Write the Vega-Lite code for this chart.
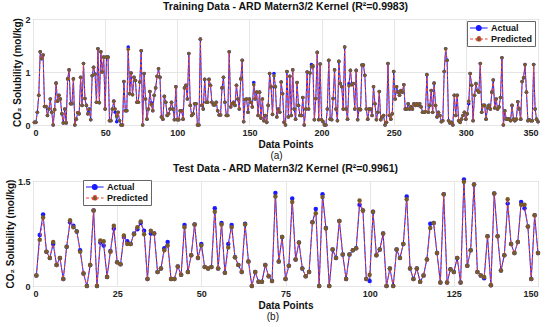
{
  "$schema": "https://vega.github.io/schema/vega-lite/v6.json",
  "background": "white",
  "padding": {"left": 4, "top": 1, "right": 5, "bottom": 0},
  "spacing": 2,
  "config": {
    "font": "Liberation Sans",
    "view": {"stroke": "#999999", "strokeWidth": 1},
    "axis": {
      "labelFont": "Liberation Sans", "labelFontWeight": "bold", "labelFontSize": 9, "labelColor": "#222222",
      "titleFont": "Liberation Sans", "titleFontWeight": "bold", "titleFontSize": 10, "titleColor": "#111111",
      "gridColor": "#e6e6e6", "domain": false, "ticks": false, "labelPadding": 3, "titlePadding": 2
    },
    "legend": {
      "labelFont": "Liberation Sans", "labelFontWeight": "bold", "labelFontSize": 9, "labelColor": "#111111",
      "strokeColor": "#666666", "fillColor": "white", "padding": 2, "rowPadding": 1, "title": null,
      "symbolSize": 64, "labelOffset": 12, "symbolStrokeWidth": 1.2,
      "symbolType": "M-1,0H3.4M1.8,0A0.6,0.6,0,1,1,0.6,0A0.6,0.6,0,1,1,1.8,0Z"
    },
    "title": {"font": "Liberation Sans", "fontWeight": "bold", "fontSize": 10.5, "color": "#111111"}
  },
  "datasets": {
    "train": [
{"i":1,"actual":0.05,"predicted":0.05},{"i":2,"actual":0.05,"predicted":0.05},{"i":3,"actual":0.24,"predicted":0.24},{"i":4,"actual":0.56,"predicted":0.56},{"i":5,"actual":1.38,"predicted":1.38},{"i":6,"actual":1.25,"predicted":1.25},{"i":7,"actual":1.32,"predicted":1.32},{"i":8,"actual":0.35,"predicted":0.35},{"i":9,"actual":0.35,"predicted":0.35},{"i":10,"actual":0.18,"predicted":0.18},
{"i":11,"actual":0.3,"predicted":0.3},{"i":12,"actual":0.49,"predicted":0.49},{"i":13,"actual":0.24,"predicted":0.24},{"i":14,"actual":0,"predicted":0},{"i":15,"actual":0.29,"predicted":0.29},{"i":16,"actual":0.79,"predicted":0.79},{"i":17,"actual":0.45,"predicted":0.45},{"i":18,"actual":0.56,"predicted":0.56},{"i":19,"actual":0.49,"predicted":0.49},{"i":20,"actual":0.21,"predicted":0.21},
{"i":21,"actual":0.04,"predicted":0.04},{"i":22,"actual":0.3,"predicted":0.3},{"i":23,"actual":0.04,"predicted":0.04},{"i":24,"actual":0.87,"predicted":0.87},{"i":25,"actual":1.04,"predicted":1.04},{"i":26,"actual":0.4,"predicted":0.4},{"i":27,"actual":0.4,"predicted":0.4},{"i":28,"actual":0.87,"predicted":0.87},{"i":29,"actual":0,"predicted":0},{"i":30,"actual":0.11,"predicted":0.11},
{"i":31,"actual":0.23,"predicted":0.23},{"i":32,"actual":0.21,"predicted":0.21},{"i":33,"actual":0.9,"predicted":0.9},{"i":34,"actual":0.37,"predicted":0.37},{"i":35,"actual":1.16,"predicted":1.16},{"i":36,"actual":0.5,"predicted":0.5},{"i":37,"actual":0.37,"predicted":0.37},{"i":38,"actual":0.21,"predicted":0.21},{"i":39,"actual":0.3,"predicted":0.3},{"i":40,"actual":0.1,"predicted":0.1},
{"i":41,"actual":0.93,"predicted":0.93},{"i":42,"actual":1.09,"predicted":1.09},{"i":43,"actual":0.96,"predicted":0.96},{"i":44,"actual":0.43,"predicted":0.43},{"i":45,"actual":1.44,"predicted":1.44},{"i":46,"actual":0.42,"predicted":0.42},{"i":47,"actual":1.38,"predicted":1.38},{"i":48,"actual":1.0,"predicted":1.0},{"i":49,"actual":1.28,"predicted":1.28},{"i":50,"actual":0.3,"predicted":0.3},
{"i":51,"actual":1.28,"predicted":1.28},{"i":52,"actual":1.28,"predicted":1.28},{"i":53,"actual":0.08,"predicted":0.08},{"i":54,"actual":0.08,"predicted":0.08},{"i":55,"actual":0.3,"predicted":0.3},{"i":56,"actual":0.45,"predicted":0.45},{"i":57,"actual":0.24,"predicted":0.3},{"i":58,"actual":0.06,"predicted":0.16},{"i":59,"actual":0.24,"predicted":0.24},{"i":60,"actual":0.08,"predicted":0.08},
{"i":61,"actual":0,"predicted":0},{"i":62,"actual":0,"predicted":0},{"i":63,"actual":0.82,"predicted":0.82},{"i":64,"actual":0.27,"predicted":0.27},{"i":65,"actual":0.27,"predicted":0.27},{"i":66,"actual":1.47,"predicted":1.43},{"i":67,"actual":0.59,"predicted":0.59},{"i":68,"actual":0.98,"predicted":0.98},{"i":69,"actual":0.57,"predicted":0.57},{"i":70,"actual":0.9,"predicted":0.9},
{"i":71,"actual":0.84,"predicted":0.84},{"i":72,"actual":0.43,"predicted":0.43},{"i":73,"actual":0.43,"predicted":0.43},{"i":74,"actual":0.81,"predicted":0.81},{"i":75,"actual":1.4,"predicted":1.4},{"i":76,"actual":0,"predicted":0},{"i":77,"actual":0.97,"predicted":0.97},{"i":78,"actual":0.49,"predicted":0.49},{"i":79,"actual":0.11,"predicted":0.11},{"i":80,"actual":0.3,"predicted":0.3},
{"i":81,"actual":0.63,"predicted":0.63},{"i":82,"actual":0.42,"predicted":0.38},{"i":83,"actual":0.27,"predicted":0.27},{"i":84,"actual":0.56,"predicted":0.56},{"i":85,"actual":0.7,"predicted":0.7},{"i":86,"actual":0.92,"predicted":0.92},{"i":87,"actual":1.06,"predicted":1.06},{"i":88,"actual":0.9,"predicted":0.9},{"i":89,"actual":0.15,"predicted":0.15},{"i":90,"actual":0.11,"predicted":0.11},
{"i":91,"actual":0.54,"predicted":0.54},{"i":92,"actual":0.43,"predicted":0.43},{"i":93,"actual":0.18,"predicted":0.18},{"i":94,"actual":0.21,"predicted":0.21},{"i":95,"actual":0.3,"predicted":0.3},{"i":96,"actual":0.43,"predicted":0.43},{"i":97,"actual":0.3,"predicted":0.3},{"i":98,"actual":0.1,"predicted":0.1},{"i":99,"actual":0.72,"predicted":0.72},{"i":100,"actual":0.1,"predicted":0.1},
{"i":101,"actual":0.1,"predicted":0.1},{"i":102,"actual":0.27,"predicted":0.27},{"i":103,"actual":0.27,"predicted":0.27},{"i":104,"actual":0.11,"predicted":0.11},{"i":105,"actual":0.7,"predicted":0.7},{"i":106,"actual":0.75,"predicted":0.75},{"i":107,"actual":0.49,"predicted":0.49},{"i":108,"actual":1.35,"predicted":1.35},{"i":109,"actual":0.37,"predicted":0.37},{"i":110,"actual":0.18,"predicted":0.18},
{"i":111,"actual":0.21,"predicted":0.21},{"i":112,"actual":0.4,"predicted":0.4},{"i":113,"actual":0.4,"predicted":0.4},{"i":114,"actual":0,"predicted":0},{"i":115,"actual":0,"predicted":0},{"i":116,"actual":1.62,"predicted":1.62},{"i":117,"actual":0.37,"predicted":0.37},{"i":118,"actual":0.3,"predicted":0.3},{"i":119,"actual":0.86,"predicted":0.86},{"i":120,"actual":0.43,"predicted":0.43},
{"i":121,"actual":0.43,"predicted":0.43},{"i":122,"actual":0.86,"predicted":0.86},{"i":123,"actual":0.75,"predicted":0.75},{"i":124,"actual":0.43,"predicted":0.43},{"i":125,"actual":0.38,"predicted":0.38},{"i":126,"actual":0.38,"predicted":0.38},{"i":127,"actual":0.43,"predicted":0.43},{"i":128,"actual":0.27,"predicted":0.27},{"i":129,"actual":0.19,"predicted":0.19},{"i":130,"actual":0.19,"predicted":0.19},
{"i":131,"actual":0.7,"predicted":0.7},{"i":132,"actual":0.9,"predicted":0.9},{"i":133,"actual":0.43,"predicted":0.43},{"i":134,"actual":0.18,"predicted":0.18},{"i":135,"actual":0.18,"predicted":0.18},{"i":136,"actual":1.38,"predicted":1.38},{"i":137,"actual":0.34,"predicted":0.34},{"i":138,"actual":0.4,"predicted":0.4},{"i":139,"actual":0.43,"predicted":0.43},{"i":140,"actual":0.37,"predicted":0.37},
{"i":141,"actual":0.75,"predicted":0.75},{"i":142,"actual":0.49,"predicted":0.49},{"i":143,"actual":0.3,"predicted":0.3},{"i":144,"actual":0.87,"predicted":0.87},{"i":145,"actual":1.22,"predicted":1.22},{"i":146,"actual":0.06,"predicted":0.06},{"i":147,"actual":0.48,"predicted":0.48},{"i":148,"actual":0.49,"predicted":0.49},{"i":149,"actual":0.24,"predicted":0.24},{"i":150,"actual":0.49,"predicted":0.49},
{"i":151,"actual":0.43,"predicted":0.43},{"i":152,"actual":0.34,"predicted":0.34},{"i":153,"actual":0.8,"predicted":0.76},{"i":154,"actual":0.49,"predicted":0.49},{"i":155,"actual":0.62,"predicted":0.62},{"i":156,"actual":0.18,"predicted":0.18},{"i":157,"actual":0.62,"predicted":0.62},{"i":158,"actual":0.13,"predicted":0.13},{"i":159,"actual":0.49,"predicted":0.49},{"i":160,"actual":0.08,"predicted":0.08},
{"i":161,"actual":0.18,"predicted":0.18},{"i":162,"actual":0.05,"predicted":0.05},{"i":163,"actual":0.37,"predicted":0.37},{"i":164,"actual":0.97,"predicted":0.97},{"i":165,"actual":0.72,"predicted":0.72},{"i":166,"actual":0.2,"predicted":0.2},{"i":167,"actual":0.97,"predicted":0.93},{"i":168,"actual":0.72,"predicted":0.72},{"i":169,"actual":0.15,"predicted":0.15},{"i":170,"actual":0.3,"predicted":0.3},
{"i":171,"actual":0.24,"predicted":0.24},{"i":172,"actual":0.81,"predicted":0.81},{"i":173,"actual":0.59,"predicted":0.59},{"i":174,"actual":0.05,"predicted":0.05},{"i":175,"actual":0,"predicted":0},{"i":176,"actual":1.01,"predicted":1.01},{"i":177,"actual":0.15,"predicted":0.15},{"i":178,"actual":0.92,"predicted":0.92},{"i":179,"actual":0.18,"predicted":0.18},{"i":180,"actual":1.04,"predicted":1.04},
{"i":181,"actual":0.3,"predicted":0.3},{"i":182,"actual":0.11,"predicted":0.11},{"i":183,"actual":0.8,"predicted":0.8},{"i":184,"actual":0.37,"predicted":0.37},{"i":185,"actual":0.18,"predicted":0.18},{"i":186,"actual":0.18,"predicted":0.18},{"i":187,"actual":0.52,"predicted":0.52},{"i":188,"actual":0,"predicted":0},{"i":189,"actual":0.3,"predicted":0.3},{"i":190,"actual":1.0,"predicted":1.0},
{"i":191,"actual":0.3,"predicted":0.3},{"i":192,"actual":0.98,"predicted":0.98},{"i":193,"actual":1.14,"predicted":1.1},{"i":194,"actual":1.1,"predicted":1.12},{"i":195,"actual":0.1,"predicted":0.1},{"i":196,"actual":0.5,"predicted":0.5},{"i":197,"actual":1.37,"predicted":1.37},{"i":198,"actual":0.1,"predicted":0.1},{"i":199,"actual":1.15,"predicted":1.15},{"i":200,"actual":0.1,"predicted":0.1},
{"i":201,"actual":0.06,"predicted":0.06},{"i":202,"actual":0,"predicted":0},{"i":203,"actual":0,"predicted":0},{"i":204,"actual":0.3,"predicted":0.3},{"i":205,"actual":1.22,"predicted":1.22},{"i":206,"actual":0.11,"predicted":0.11},{"i":207,"actual":0.1,"predicted":0.1},{"i":208,"actual":0.5,"predicted":0.5},{"i":209,"actual":1.04,"predicted":1.04},{"i":210,"actual":0.3,"predicted":0.3},
{"i":211,"actual":0.08,"predicted":0.08},{"i":212,"actual":1.2,"predicted":1.2},{"i":213,"actual":0.78,"predicted":0.78},{"i":214,"actual":0.72,"predicted":0.72},{"i":215,"actual":0.3,"predicted":0.3},{"i":216,"actual":1.47,"predicted":1.47},{"i":217,"actual":0.3,"predicted":0.3},{"i":218,"actual":0.11,"predicted":0.11},{"i":219,"actual":0.78,"predicted":0.74},{"i":220,"actual":1.03,"predicted":1.03},
{"i":221,"actual":0.76,"predicted":0.76},{"i":222,"actual":0.78,"predicted":0.78},{"i":223,"actual":0.3,"predicted":0.3},{"i":224,"actual":1.03,"predicted":1.03},{"i":225,"actual":0.1,"predicted":0.1},{"i":226,"actual":0.3,"predicted":0.3},{"i":227,"actual":0.29,"predicted":0.29},{"i":228,"actual":1.13,"predicted":1.13},{"i":229,"actual":1.13,"predicted":1.13},{"i":230,"actual":0.94,"predicted":0.94},
{"i":231,"actual":0.3,"predicted":0.3},{"i":232,"actual":0.11,"predicted":0.11},{"i":233,"actual":0.3,"predicted":0.3},{"i":234,"actual":0.3,"predicted":0.3},{"i":235,"actual":0.18,"predicted":0.18},{"i":236,"actual":0.72,"predicted":0.72},{"i":237,"actual":0.4,"predicted":0.4},{"i":238,"actual":0.1,"predicted":0.1},{"i":239,"actual":0.24,"predicted":0.24},{"i":240,"actual":0.63,"predicted":0.63},
{"i":241,"actual":0.1,"predicted":0.1},{"i":242,"actual":0.15,"predicted":0.15},{"i":243,"actual":0.18,"predicted":0.18},{"i":244,"actual":0,"predicted":0},{"i":245,"actual":0.05,"predicted":0.05},{"i":246,"actual":1.16,"predicted":1.16},{"i":247,"actual":0.18,"predicted":0.18},{"i":248,"actual":0.11,"predicted":0.11},{"i":249,"actual":0.21,"predicted":0.21},{"i":250,"actual":1.01,"predicted":1.01},
{"i":251,"actual":0.49,"predicted":0.49},{"i":252,"actual":0.72,"predicted":0.72},{"i":253,"actual":0.62,"predicted":0.62},{"i":254,"actual":0.56,"predicted":0.56},{"i":255,"actual":0.65,"predicted":0.65},{"i":256,"actual":0.62,"predicted":0.62},{"i":257,"actual":0.76,"predicted":0.76},{"i":258,"actual":0.3,"predicted":0.3},{"i":259,"actual":0.3,"predicted":0.3},{"i":260,"actual":0.4,"predicted":0.4},
{"i":261,"actual":0.3,"predicted":0.3},{"i":262,"actual":0.35,"predicted":0.35},{"i":263,"actual":0.3,"predicted":0.3},{"i":264,"actual":0.4,"predicted":0.4},{"i":265,"actual":0.37,"predicted":0.37},{"i":266,"actual":0.4,"predicted":0.4},{"i":267,"actual":0.37,"predicted":0.37},{"i":268,"actual":0.4,"predicted":0.4},{"i":269,"actual":0.34,"predicted":0.34},{"i":270,"actual":0.24,"predicted":0.24},
{"i":271,"actual":0.24,"predicted":0.24},{"i":272,"actual":0.25,"predicted":0.25},{"i":273,"actual":0.95,"predicted":0.95},{"i":274,"actual":0.24,"predicted":0.24},{"i":275,"actual":0.37,"predicted":0.37},{"i":276,"actual":0.65,"predicted":0.65},{"i":277,"actual":0.24,"predicted":0.24},{"i":278,"actual":0.79,"predicted":0.79},{"i":279,"actual":0.37,"predicted":0.37},{"i":280,"actual":0.15,"predicted":0.15},
{"i":281,"actual":0.24,"predicted":0.24},{"i":282,"actual":0.18,"predicted":0.18},{"i":283,"actual":0.06,"predicted":0.06},{"i":284,"actual":0.08,"predicted":0.08},{"i":285,"actual":1.01,"predicted":1.01},{"i":286,"actual":1.44,"predicted":1.44},{"i":287,"actual":1.22,"predicted":1.22},{"i":288,"actual":0.08,"predicted":0.08},{"i":289,"actual":0.04,"predicted":0.04},{"i":290,"actual":0.05,"predicted":0.05},
{"i":291,"actual":0,"predicted":0},{"i":292,"actual":0.56,"predicted":0.56},{"i":293,"actual":0.18,"predicted":0.18},{"i":294,"actual":0.56,"predicted":0.56},{"i":295,"actual":0.08,"predicted":0.08},{"i":296,"actual":0.05,"predicted":0.05},{"i":297,"actual":0.11,"predicted":0.11},{"i":298,"actual":0.18,"predicted":0.18},{"i":299,"actual":0.24,"predicted":0.24},{"i":300,"actual":0.11,"predicted":0.11},
{"i":301,"actual":0.21,"predicted":0.21},{"i":302,"actual":0.4,"predicted":0.45},{"i":303,"actual":0.97,"predicted":0.97},{"i":304,"actual":0.75,"predicted":0.75},{"i":305,"actual":0.08,"predicted":0.08},{"i":306,"actual":0.56,"predicted":0.56},{"i":307,"actual":0.78,"predicted":0.78},{"i":308,"actual":0.65,"predicted":0.65},{"i":309,"actual":0.62,"predicted":0.62},{"i":310,"actual":1.16,"predicted":1.16},
{"i":311,"actual":0.24,"predicted":0.24},{"i":312,"actual":0.37,"predicted":0.37},{"i":313,"actual":0.37,"predicted":0.37},{"i":314,"actual":0.11,"predicted":0.11},{"i":315,"actual":0.32,"predicted":0.32},{"i":316,"actual":0.37,"predicted":0.37},{"i":317,"actual":0.3,"predicted":0.3},{"i":318,"actual":0.62,"predicted":0.62},{"i":319,"actual":0.85,"predicted":0.85},{"i":320,"actual":0.32,"predicted":0.32},
{"i":321,"actual":0.49,"predicted":0.49},{"i":322,"actual":0.3,"predicted":0.3},{"i":323,"actual":0.34,"predicted":0.34},{"i":324,"actual":0.52,"predicted":0.52},{"i":325,"actual":1.27,"predicted":1.27},{"i":326,"actual":0,"predicted":0},{"i":327,"actual":0.27,"predicted":0.27},{"i":328,"actual":0.11,"predicted":0.11},{"i":329,"actual":0.11,"predicted":0.11},{"i":330,"actual":0.11,"predicted":0.11},
{"i":331,"actual":0.08,"predicted":0.08},{"i":332,"actual":0.37,"predicted":0.37},{"i":333,"actual":0.11,"predicted":0.11},{"i":334,"actual":0.08,"predicted":0.08},{"i":335,"actual":0.11,"predicted":0.11},{"i":336,"actual":0.44,"predicted":0.44},{"i":337,"actual":0.3,"predicted":0.3},{"i":338,"actual":0.11,"predicted":0.11},{"i":339,"actual":0.82,"predicted":0.82},{"i":340,"actual":0.89,"predicted":0.89},
{"i":341,"actual":1.14,"predicted":1.14},{"i":342,"actual":0.62,"predicted":0.62},{"i":343,"actual":0.08,"predicted":0.08},{"i":344,"actual":0.1,"predicted":0.1},{"i":345,"actual":0.08,"predicted":0.08},{"i":346,"actual":0.08,"predicted":0.08},{"i":347,"actual":1.14,"predicted":1.14},{"i":348,"actual":0.3,"predicted":0.3},{"i":349,"actual":0.11,"predicted":0.11},{"i":350,"actual":0.06,"predicted":0.06}
    ],
    "test": [
{"i":1,"actual":0.15,"predicted":0.15},{"i":2,"actual":0.73,"predicted":0.66},{"i":3,"actual":1.02,"predicted":0.98},{"i":4,"actual":0.49,"predicted":0.49},{"i":5,"actual":0.4,"predicted":0.4},{"i":6,"actual":0.6,"predicted":0.63},{"i":7,"actual":0.3,"predicted":0.3},{"i":8,"actual":0.4,"predicted":0.4},{"i":9,"actual":0.1,"predicted":0.1},{"i":10,"actual":0.56,"predicted":0.56},
{"i":11,"actual":0.91,"predicted":0.94},{"i":12,"actual":0.86,"predicted":0.84},{"i":13,"actual":0.78,"predicted":0.78},{"i":14,"actual":0.51,"predicted":0.49},{"i":15,"actual":0.18,"predicted":0.18},{"i":16,"actual":0,"predicted":0},{"i":17,"actual":0.3,"predicted":0.3},{"i":18,"actual":1.08,"predicted":1.08},{"i":19,"actual":0,"predicted":0},{"i":20,"actual":0.62,"predicted":0.65},
{"i":21,"actual":0.58,"predicted":0.64},{"i":22,"actual":0.13,"predicted":0.13},{"i":23,"actual":0.5,"predicted":0.49},{"i":24,"actual":0.82,"predicted":0.86},{"i":25,"actual":0.34,"predicted":0.34},{"i":26,"actual":0.31,"predicted":0.31},{"i":27,"actual":0.7,"predicted":0.72},{"i":28,"actual":0.64,"predicted":0.6},{"i":29,"actual":0.6,"predicted":0.6},{"i":30,"actual":0.75,"predicted":0.74},
{"i":31,"actual":0.81,"predicted":0.84},{"i":32,"actual":0.9,"predicted":0.92},{"i":33,"actual":0.79,"predicted":0.74},{"i":34,"actual":0.1,"predicted":0.1},{"i":35,"actual":0.75,"predicted":0.79},{"i":36,"actual":0.75,"predicted":0.75},{"i":37,"actual":0.2,"predicted":0.2},{"i":38,"actual":0.25,"predicted":0.25},{"i":39,"actual":0.54,"predicted":0.51},{"i":40,"actual":0.63,"predicted":0.58},
{"i":41,"actual":0.1,"predicted":0.1},{"i":42,"actual":0.1,"predicted":0.1},{"i":43,"actual":0.28,"predicted":0.28},{"i":44,"actual":0.16,"predicted":0.16},{"i":45,"actual":0.87,"predicted":0.84},{"i":46,"actual":0.2,"predicted":0.2},{"i":47,"actual":0.44,"predicted":0.44},{"i":48,"actual":0.88,"predicted":0.88},{"i":49,"actual":0.4,"predicted":0.4},{"i":50,"actual":0.6,"predicted":0.58},
{"i":51,"actual":0.27,"predicted":0.27},{"i":52,"actual":0.25,"predicted":0.25},{"i":53,"actual":0.27,"predicted":0.27},{"i":54,"actual":1.11,"predicted":1.06},{"i":55,"actual":0.25,"predicted":0.25},{"i":56,"actual":0.9,"predicted":0.88},{"i":57,"actual":0.19,"predicted":0.19},{"i":58,"actual":0.6,"predicted":0.55},{"i":59,"actual":0.87,"predicted":0.84},{"i":60,"actual":0.41,"predicted":0.41},
{"i":61,"actual":0.3,"predicted":0.3},{"i":62,"actual":0.2,"predicted":0.2},{"i":63,"actual":0.89,"predicted":0.88},{"i":64,"actual":0.35,"predicted":0.35},{"i":65,"actual":0,"predicted":0},{"i":66,"actual":0.2,"predicted":0.2},{"i":67,"actual":0.06,"predicted":0.06},{"i":68,"actual":0.06,"predicted":0.06},{"i":69,"actual":0.3,"predicted":0.3},{"i":70,"actual":0.14,"predicted":0.14},
{"i":71,"actual":0.07,"predicted":0.07},{"i":72,"actual":1.33,"predicted":1.28},{"i":73,"actual":0.35,"predicted":0.35},{"i":74,"actual":0.7,"predicted":0.7},{"i":75,"actual":0.1,"predicted":0.1},{"i":76,"actual":0.29,"predicted":0.29},{"i":77,"actual":1.25,"predicted":1.2},{"i":78,"actual":0.38,"predicted":0.38},{"i":79,"actual":0.62,"predicted":0.62},{"i":80,"actual":0.25,"predicted":0.25},
{"i":81,"actual":0.14,"predicted":0.14},{"i":82,"actual":0.2,"predicted":0.2},{"i":83,"actual":0.91,"predicted":0.91},{"i":84,"actual":1.1,"predicted":1.04},{"i":85,"actual":0,"predicted":0},{"i":86,"actual":1.31,"predicted":1.27},{"i":87,"actual":0.83,"predicted":0.82},{"i":88,"actual":0,"predicted":0},{"i":89,"actual":0.52,"predicted":0.52},{"i":90,"actual":0.4,"predicted":0.4},
{"i":91,"actual":0.93,"predicted":0.93},{"i":92,"actual":0.45,"predicted":0.45},{"i":93,"actual":0.1,"predicted":0.1},{"i":94,"actual":0.45,"predicted":0.45},{"i":95,"actual":0.51,"predicted":0.51},{"i":96,"actual":0.54,"predicted":0.54},{"i":97,"actual":1.16,"predicted":1.22},{"i":98,"actual":1.08,"predicted":1.08},{"i":99,"actual":0.1,"predicted":0.1},{"i":100,"actual":0.07,"predicted":0.16},
{"i":101,"actual":1.06,"predicted":1.06},{"i":102,"actual":0.44,"predicted":0.44},{"i":103,"actual":0.52,"predicted":0.52},{"i":104,"actual":0.75,"predicted":0.75},{"i":105,"actual":0,"predicted":0},{"i":106,"actual":0.25,"predicted":0.25},{"i":107,"actual":0,"predicted":0},{"i":108,"actual":0.52,"predicted":0.52},{"i":109,"actual":0.4,"predicted":0.4},{"i":110,"actual":0.6,"predicted":0.6},
{"i":111,"actual":1.28,"predicted":1.24},{"i":112,"actual":0.25,"predicted":0.25},{"i":113,"actual":0.1,"predicted":0.1},{"i":114,"actual":0.25,"predicted":0.25},{"i":115,"actual":0.06,"predicted":0.06},{"i":116,"actual":0.15,"predicted":0.15},{"i":117,"actual":0.38,"predicted":0.38},{"i":118,"actual":0.89,"predicted":0.83},{"i":119,"actual":0.9,"predicted":0.9},{"i":120,"actual":0.47,"predicted":0.47},
{"i":121,"actual":0.05,"predicted":0.05},{"i":122,"actual":1.31,"predicted":1.31},{"i":123,"actual":0.05,"predicted":0.05},{"i":124,"actual":0.24,"predicted":0.24},{"i":125,"actual":0.2,"predicted":0.2},{"i":126,"actual":0.4,"predicted":0.4},{"i":127,"actual":0.05,"predicted":0.05},{"i":128,"actual":1.52,"predicted":1.49},{"i":129,"actual":0.29,"predicted":0.29},{"i":130,"actual":0.51,"predicted":0.51},
{"i":131,"actual":1.45,"predicted":1.45},{"i":132,"actual":0.2,"predicted":0.2},{"i":133,"actual":0.15,"predicted":0.15},{"i":134,"actual":0.11,"predicted":0.13},{"i":135,"actual":0.71,"predicted":0.71},{"i":136,"actual":0.01,"predicted":0.01},{"i":137,"actual":1.32,"predicted":1.32},{"i":138,"actual":0.71,"predicted":0.71},{"i":139,"actual":0.22,"predicted":0.22},{"i":140,"actual":0.44,"predicted":0.44},
{"i":141,"actual":1.18,"predicted":1.24},{"i":142,"actual":0.6,"predicted":0.6},{"i":143,"actual":0.47,"predicted":0.47},{"i":144,"actual":0.63,"predicted":0.63},{"i":145,"actual":1.2,"predicted":1.16},{"i":146,"actual":1.11,"predicted":1.16},{"i":147,"actual":0.85,"predicted":0.85},{"i":148,"actual":0.1,"predicted":0.1},{"i":149,"actual":1.01,"predicted":1.01},{"i":150,"actual":0.47,"predicted":0.47}
    ]
  },
  "vconcat": [
    {
      "title": {"text": "(a)", "orient": "bottom", "anchor": "middle", "fontWeight": "normal", "fontSize": 10, "offset": 1},
      "vconcat": [
        {
          "title": {"text": "Training Data - ARD Matern3/2 Kernel (R²=0.9983)", "frame": "group", "anchor": "middle", "offset": 3},
          "width": 505, "height": 106,
          "data": {"name": "train"},
          "encoding": {
            "x": {"field": "i", "type": "quantitative", "title": "Data Points",
                  "scale": {"domain": [0, 350], "nice": false},
                  "axis": {"values": [0, 50, 100, 150, 200, 250, 300, 350]}}
          },
          "layer": [
            {"mark": {"type": "line", "strokeWidth": 1},
             "encoding": {
               "y": {"field": "actual", "type": "quantitative", "title": "CO₂ Solubility (mol/kg)",
                     "scale": {"domain": [0, 2], "nice": false},
                     "axis": {"values": [0, 0.5, 1, 1.5, 2], "format": "~g"}},
               "color": {"datum": "Actual",
                         "scale": {"domain": ["Actual", "Predicted"], "range": ["#1a1aff", "#e8453c"]},
                         "legend": {"orient": "none", "legendX": 434, "legendY": 2,
                                    "encode": {"symbols": {"update": {
                                      "fill": {"signal": "datum.value === 'Actual' ? '#1a1aff' : '#7a5a28'"},
                                      "strokeDash": {"signal": "datum.value === 'Actual' ? [] : [3, 2]"}}}}}}
             }},
            {"mark": {"type": "point", "filled": true, "size": 13, "opacity": 1, "color": "#1a1aff"},
             "encoding": {"y": {"field": "actual", "type": "quantitative", "title": "CO₂ Solubility (mol/kg)"}}},
            {"mark": {"type": "line", "strokeWidth": 1, "strokeDash": [3, 2]},
             "encoding": {
               "y": {"field": "predicted", "type": "quantitative", "title": "CO₂ Solubility (mol/kg)"},
               "color": {"datum": "Predicted"}
             }},
            {"mark": {"type": "point", "filled": true, "size": 13, "opacity": 1, "color": "#7a5a28"},
             "encoding": {"y": {"field": "predicted", "type": "quantitative", "title": "CO₂ Solubility (mol/kg)"}}}
          ]
        }
      ]
    },
    {
      "title": {"text": "(b)", "orient": "bottom", "anchor": "middle", "fontWeight": "normal", "fontSize": 10, "offset": 1},
      "vconcat": [
        {
          "title": {"text": "Test Data - ARD Matern3/2 Kernel (R²=0.9961)", "frame": "group", "anchor": "middle", "offset": 3},
          "width": 505, "height": 105,
          "data": {"name": "test"},
          "encoding": {
            "x": {"field": "i", "type": "quantitative", "title": "Data Points",
                  "scale": {"domain": [0, 150], "nice": false},
                  "axis": {"values": [0, 25, 50, 75, 100, 125, 150]}}
          },
          "layer": [
            {"mark": {"type": "line", "strokeWidth": 1},
             "encoding": {
               "y": {"field": "actual", "type": "quantitative", "title": "CO₂ Solubility (mol/kg)",
                     "scale": {"domain": [0, 1.5], "nice": false},
                     "axis": {"values": [0, 0.5, 1, 1.5], "format": "~g"}},
               "color": {"datum": "Actual",
                         "scale": {"domain": ["Actual", "Predicted"], "range": ["#1a1aff", "#e8453c"]},
                         "legend": {"orient": "none", "legendX": 50, "legendY": -1,
                                    "encode": {"symbols": {"update": {
                                      "fill": {"signal": "datum.value === 'Actual' ? '#1a1aff' : '#7a5a28'"},
                                      "strokeDash": {"signal": "datum.value === 'Actual' ? [] : [3, 2]"}}}}}}
             }},
            {"mark": {"type": "point", "filled": true, "size": 20, "opacity": 1, "color": "#1a1aff"},
             "encoding": {"y": {"field": "actual", "type": "quantitative", "title": "CO₂ Solubility (mol/kg)"}}},
            {"mark": {"type": "line", "strokeWidth": 1, "strokeDash": [3, 2]},
             "encoding": {
               "y": {"field": "predicted", "type": "quantitative", "title": "CO₂ Solubility (mol/kg)"},
               "color": {"datum": "Predicted"}
             }},
            {"mark": {"type": "point", "filled": true, "size": 20, "opacity": 1, "color": "#7a5a28"},
             "encoding": {"y": {"field": "predicted", "type": "quantitative", "title": "CO₂ Solubility (mol/kg)"}}}
          ]
        }
      ]
    }
  ],
  "resolve": {"scale": {"color": "independent", "x": "independent", "y": "independent"}, "legend": {"color": "independent"}}
}
